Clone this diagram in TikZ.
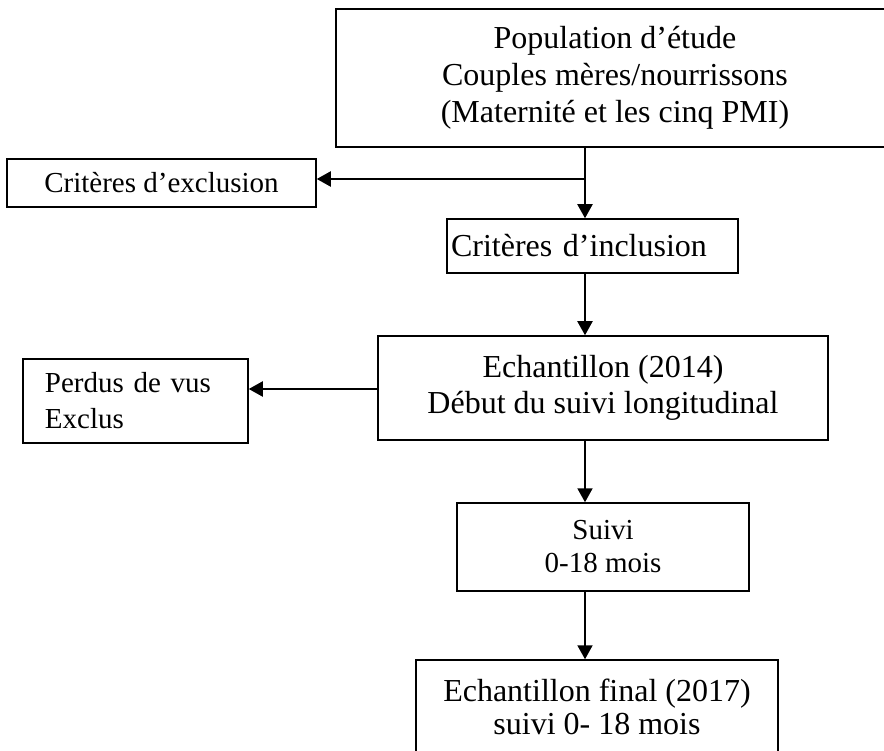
\documentclass[tikz,border=0pt]{standalone}
\usepackage{fontspec}
\setmainfont{Liberation Serif}
\usetikzlibrary{arrows.meta}
\tikzset{
  box/.style={draw, line width=1.5pt, inner sep=0pt, align=center},
  bigtxt/.style={font=\fontsize{32}{37}\selectfont},
  smalltxt/.style={font=\fontsize{29}{35}\selectfont},
  arr/.style={line width=2pt, -{Triangle[length=14pt,width=15pt]}},
  plain/.style={line width=2pt}
}
\begin{document}
\begin{tikzpicture}[x=1pt,y=-1pt]
\useasboundingbox[fill=white] (0,0) rectangle (884,751);
% boxes
\node[box, bigtxt, line width=2.5pt, minimum width=558pt, minimum height=138pt] (top) at (615,78)
  {Population d’étude\\Couples mères/nourrissons\\(Maternité et les cinq PMI)};
\node[box, smalltxt, minimum width=309pt, minimum height=48pt] (excl) at (161.5,183)
  {Critères d’exclusion};
\node[box, bigtxt, align=left, text width=283pt, inner xsep=4pt, minimum height=54pt] (incl) at (592.5,246)
  {Critères d’inclusion};
\node[box, bigtxt, font=\fontsize{32}{36}\selectfont, minimum width=450pt, minimum height=104pt] (ech) at (603,388)
  {Echantillon (2014)\\Début du suivi longitudinal};
\node[box, smalltxt, font=\fontsize{29}{36}\selectfont, align=left, text width=181pt, inner xsep=22pt, minimum height=84pt] (perdus) at (135.5,401)
  {Perdus de vus\\Exclus};
\node[box, smalltxt, font=\fontsize{29}{33}\selectfont, minimum width=292pt, minimum height=88pt] (suivi) at (603,547)
  {Suivi\\0-18 mois};
\node[box, bigtxt, font=\fontsize{32}{33}\selectfont, minimum width=362pt, minimum height=93pt] (final) at (597,706.5)
  {Echantillon final (2017)\\suivi 0- 18 mois};
% connectors
\coordinate (ax) at (585,0);
\coordinate (j) at (585,179);
\draw[plain] (top.south -| ax) -- (j);
\draw[arr] (j) -- (incl.north -| ax);
\draw[arr] (j) -- (excl.east |- j);
\draw[arr] (incl.south -| ax) -- (ech.north -| ax);
\coordinate (hp) at (0,389);
\draw[arr] (ech.west |- hp) -- (perdus.east |- hp);
\draw[arr] (ech.south -| ax) -- (suivi.north -| ax);
\draw[arr] (suivi.south -| ax) -- (final.north -| ax);
\end{tikzpicture}
\end{document}
